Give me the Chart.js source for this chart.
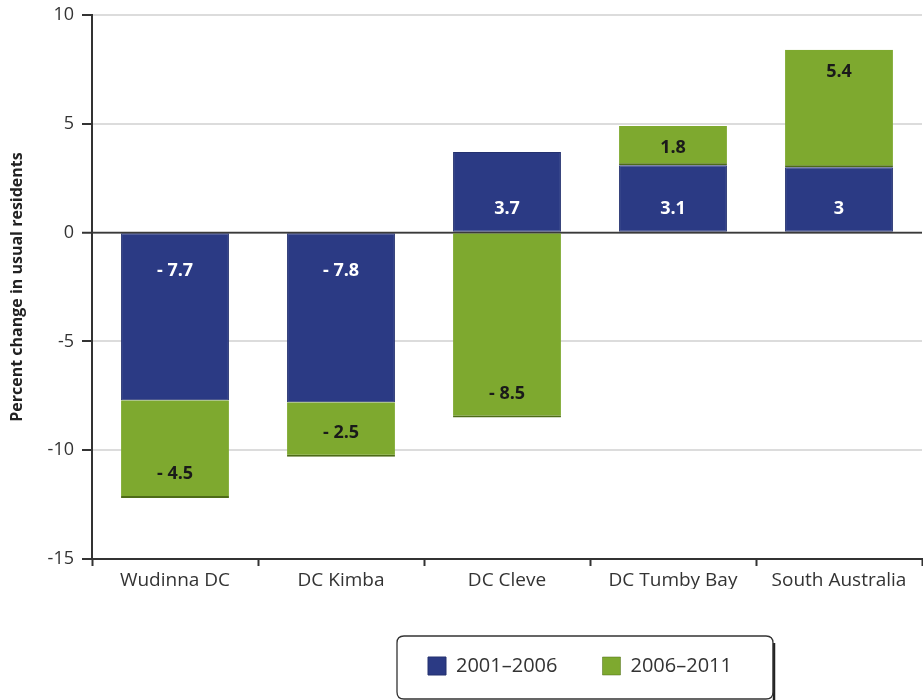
<!DOCTYPE html>
<html>
<head>
<meta charset="utf-8">
<script src="https://cdn.jsdelivr.net/npm/chart.js@4/dist/chart.umd.min.js"></script>
<style>
  html, body { margin: 0; padding: 0; background: #ffffff; }
  #wrap { width: 923px; height: 700px; overflow: hidden; }
</style>
</head>
<body>
<div id="wrap"><canvas id="c" width="923" height="700"></canvas></div>
<script>
// ---- data ----
const categories = ['Wudinna DC', 'DC Kimba', 'DC Cleve', 'DC Tumby Bay', 'South Australia'];
const seriesNames = ['2001\u20132006', '2006\u20132011'];
const change2001_2006 = [-7.7, -7.8, 3.7, 3.1, 3];
const change2006_2011 = [-4.5, -2.5, -8.5, 1.8, 5.4];
const yTicks = [10, 5, 0, -5, -10, -15];
const yAxisTitle = 'Percent change in usual residents';

// ---- styles ----
const BLUE = '#2b3a84';
const GREEN = '#7ea92f';
const FONT = "'Open Sans', 'DejaVu Sans', sans-serif";

Chart.defaults.font.family = FONT;
Chart.defaults.color = '#222222';

const valueLabels = {
  id: 'valueLabels',
  afterDatasetsDraw(chart) {
    const ctx = chart.ctx;
    const yScale = chart.scales.y;
    // zero line on top of the bars
    const y0 = yScale.getPixelForValue(0);
    ctx.save();
    ctx.strokeStyle = '#3a3a3a';
    ctx.lineWidth = 1.5;
    ctx.beginPath();
    ctx.moveTo(chart.chartArea.left, y0);
    ctx.lineTo(chart.chartArea.right, y0);
    ctx.stroke();

    ctx.font = "bold 18px " + FONT;
    ctx.textAlign = 'center';
    ctx.textBaseline = 'middle';
    chart.data.datasets.forEach((ds, di) => {
      const meta = chart.getDatasetMeta(di);
      meta.data.forEach((bar, i) => {
        const v = ds.data[i];
        let y;
        if (di === 0) {
          y = v >= 0 ? bar.base - 23 : bar.base + 38;
        } else {
          y = v >= 0 ? bar.y + 22 : bar.y - 24;
        }
        const txt = v < 0 ? '- ' + Math.abs(v) : String(v);
        ctx.fillStyle = di === 0 ? '#ffffff' : '#1a1a1a';
        ctx.fillText(txt, bar.x, y);
      });
    });
    ctx.restore();
  }
};

const legendFrame = {
  id: 'legendFrame',
  beforeDraw(chart) {
    const lg = chart.legend;
    if (!lg) return;
    const P = chart.options.plugins.legend.labels.padding;
    const w = lg.right - lg.left;
    lg.left = 428 - P;
    lg.right = lg.left + Math.max(w, 2000);
    lg.top = 666 - P - 10;
    lg.bottom = lg.top + 80;
  },
  afterDraw(chart) {
    const lg = chart.legend;
    if (!lg) return;
    const ctx = chart.ctx;
    const x1 = 397, y1 = 636, x2 = 773, y2 = 699;
    const r = 7;
    ctx.save();
    // shadow edge
    ctx.strokeStyle = '#222';
    ctx.lineWidth = 2.5;
    ctx.beginPath();
    ctx.moveTo(x2 + 1, y1 + r);
    ctx.lineTo(x2 + 1, y2 + 2);
    ctx.stroke();
    ctx.strokeStyle = '#333';
    ctx.lineWidth = 1.3;
    ctx.beginPath();
    ctx.moveTo(x1 + r, y1);
    ctx.lineTo(x2 - r, y1);
    ctx.quadraticCurveTo(x2, y1, x2, y1 + r);
    ctx.lineTo(x2, y2 - r);
    ctx.quadraticCurveTo(x2, y2, x2 - r, y2);
    ctx.lineTo(x1 + r, y2);
    ctx.quadraticCurveTo(x1, y2, x1, y2 - r);
    ctx.lineTo(x1, y1 + r);
    ctx.quadraticCurveTo(x1, y1, x1 + r, y1);
    ctx.stroke();
    ctx.restore();
  }
};

new Chart(document.getElementById('c'), {
  type: 'bar',
  data: {
    labels: categories,
    datasets: [
      {
        label: seriesNames[0],
        data: change2001_2006,
        backgroundColor: BLUE,
        borderColor: '#24316f',
        borderWidth: 1,
        borderSkipped: false
      },
      {
        label: seriesNames[1],
        data: change2006_2011,
        backgroundColor: GREEN,
        borderColor: '#4d6b17',
        borderWidth: { top: 0, left: 0, right: 0, bottom: 2 },
        borderSkipped: false
      }
    ]
  },
  options: {
    responsive: false,
    animation: false,
    devicePixelRatio: 1,
    layout: { padding: { top: 15, right: 1, bottom: 36, left: 0 } },
    datasets: {
      bar: { categoryPercentage: 1.0, barPercentage: 0.65 }
    },
    scales: {
      x: {
        stacked: true,
        afterFit(scale) { scale.height = 30; },
        grid: {
          offset: true,
          drawOnChartArea: false,
          drawTicks: true,
          tickLength: 7,
          tickColor: '#333',
          tickWidth: 2
        },
        border: { display: true, color: '#333', width: 2 },
        ticks: {
          font: { size: 19 },
          color: '#333',
          padding: 3,
          maxRotation: 0,
          autoSkip: false
        }
      },
      y: {
        stacked: true,
        min: -15,
        max: 10,
        afterFit(scale) {
          scale.width = 92;
          scale.paddingTop = 0;
          scale.paddingBottom = 0;
        },
        afterBuildTicks(scale) { scale.ticks = yTicks.map(v => ({ value: v })); },
        grid: {
          color(ctx) {
            const v = ctx.tick && ctx.tick.value;
            if (v === 0) return '#3a3a3a';
            if (v === -15) return 'rgba(0,0,0,0)';
            return '#dcdcdc';
          },
          lineWidth(ctx) {
            const v = ctx.tick && ctx.tick.value;
            return v === 0 ? 1.5 : 2;
          },
          tickColor: '#333',
          tickWidth: 2,
          tickLength: 10
        },
        border: { display: true, color: '#333', width: 2 },
        ticks: {
          font: { size: 18 },
          color: '#333',
          padding: 8,
          stepSize: 5
        },
        title: {
          display: true,
          text: yAxisTitle,
          font: { size: 16, weight: 'bold' },
          color: '#222',
          padding: { top: 8, bottom: 0 }
        }
      }
    },
    plugins: {
      legend: {
        display: true,
        position: 'bottom',
        align: 'start',
        labels: {
          boxWidth: 18,
          boxHeight: 18,
          padding: 45,
          font: { size: 20 },
          color: '#333'
        }
      },
      tooltip: { enabled: false }
    }
  },
  plugins: [valueLabels, legendFrame]
});
</script>
</body>
</html>
